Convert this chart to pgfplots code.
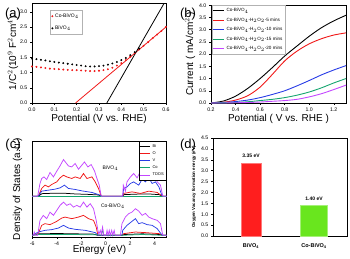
\documentclass[border=0pt]{standalone}
\usepackage{pgfplots}
\pgfplotsset{compat=1.18}
\usepackage{fontspec}
\setmainfont{Liberation Sans}
\definecolor{cred}{RGB}{240,25,25}
\definecolor{cblue}{RGB}{40,60,230}
\definecolor{cgreen}{RGB}{20,165,110}
\definecolor{cpurple}{RGB}{195,70,255}
\definecolor{bred}{RGB}{255,30,30}
\definecolor{bgreen}{RGB}{105,230,30}
\pgfplotsset{
  myax/.style={
    scale only axis,
    axis line style={line width=0.5pt},
    tick style={line width=0.4pt,black},
    tick align=outside,
    major tick length=1.6pt,
    xtick pos=bottom, ytick pos=left,
    tick label style={font=\fontsize{5.2}{6}\selectfont},
    label style={font=\fontsize{5.8}{6.5}\selectfont},
    /pgf/number format/assume math mode=true,
    xticklabel style={yshift=0.5pt},
    yticklabel style={xshift=0.5pt},
  },
}
\begin{document}
\begin{tikzpicture}
%% (a)
\begin{axis}[myax, at={(32pt,155pt)}, anchor=south west, width=134pt, height=99.5pt,
  xmin=0, xmax=0.6, ymin=0, ymax=3.27,
  xtick={0,0.1,0.2,0.3,0.4,0.5,0.6}, ytick={0,0.5,1,1.5,2,2.5,3},
  xticklabel style={/pgf/number format/.cd,fixed,fixed zerofill,precision=1},
  yticklabel style={/pgf/number format/.cd,fixed,fixed zerofill,precision=1},
  xlabel={Potential (V vs. RHE)},
  ylabel={1/C$^{2}$(10$^{9}$ F$^{2}$cm$^{4}$)},
  every axis x label/.style={at={(axis description cs:0.5,-0.16)}, anchor=center},
  every axis y label/.style={at={(axis description cs:-0.142,0.5)}, rotate=90, anchor=center},
  legend style={at={(0.134,0.935)}, anchor=north west, font=\fontsize{5}{5.5}\selectfont, draw=gray!60, inner sep=1.5pt, row sep=3pt},
  legend cell align=left,
  legend image code/.code={\draw[#1] plot coordinates {(6pt,0pt)};},
]
\addplot[only marks, mark=*, mark size=0.75pt, cred] coordinates {
(0,1.20)(0.02,1.19)(0.04,1.17)(0.06,1.15)(0.08,1.13)(0.10,1.12)(0.12,1.11)(0.14,1.10)
(0.16,1.09)(0.18,1.08)(0.20,1.08)(0.22,1.07)(0.24,1.06)(0.26,1.05)(0.28,1.05)(0.30,1.06)
(0.32,1.08)(0.34,1.11)(0.36,1.16)(0.38,1.23)(0.40,1.31)(0.42,1.41)(0.44,1.52)(0.46,1.64)
(0.48,1.76)(0.50,1.88)(0.52,2.00)(0.54,2.13)(0.56,2.25)(0.58,2.37)(0.60,2.50)};
\addlegendentry{Co-BiVO$_4$}
\addplot[only marks, mark=*, mark size=0.75pt, black] coordinates {
(0,1.46)(0.02,1.44)(0.04,1.42)(0.06,1.40)(0.08,1.37)(0.10,1.35)(0.12,1.33)(0.14,1.31)
(0.16,1.29)(0.18,1.27)(0.20,1.25)(0.22,1.23)(0.24,1.21)(0.26,1.20)(0.28,1.20)(0.30,1.21)
(0.32,1.23)(0.34,1.26)(0.36,1.30)(0.38,1.35)(0.40,1.41)(0.42,1.48)(0.44,1.57)(0.46,1.67)(0.48,1.79)};
\addlegendentry{BiVO$_4$}
\addplot[cred, line width=0.8pt, forget plot] coordinates {(0.195,0)(0.6,2.5)};
\addplot[black, line width=0.8pt, forget plot] coordinates {(0.335,0)(0.591,3.27)};
\end{axis}
%% (b)
\begin{axis}[myax, at={(211pt,155pt)}, anchor=south west, width=135pt, height=98pt,
  xmin=0.2, xmax=1.3, ymin=0, ymax=4.01,
  xtick={0.2,0.4,0.6,0.8,1.0,1.2}, ytick={0,0.5,1,1.5,2,2.5,3,3.5,4},
  xticklabel style={/pgf/number format/.cd,fixed,fixed zerofill,precision=1},
  yticklabel style={/pgf/number format/.cd,fixed,fixed zerofill,precision=1},
  xlabel={Potential ( V vs. RHE )},
  ylabel={Current ( mA/cm$^{2}$ )},
  every axis x label/.style={at={(axis description cs:0.5,-0.163)}, anchor=center},
  every axis y label/.style={at={(axis description cs:-0.155,0.5)}, rotate=90, anchor=center},
  legend style={at={(0.005,0.995)}, anchor=north west, font=\fontsize{4.6}{5}\selectfont, draw=gray!60, inner sep=0.8pt, row sep=0.6pt},
  legend cell align=left,
  legend image code/.code={\draw[#1] (0pt,0pt) -- (11pt,0pt);},
]
\addplot[black, line width=0.9pt, smooth] coordinates {
(0.2,0)(0.3,0.08)(0.4,0.28)(0.5,0.6)(0.6,1.0)(0.7,1.45)(0.8,1.92)(0.9,2.33)(1.0,2.73)(1.1,3.08)(1.2,3.36)(1.3,3.59)};
\addlegendentry{Co-BiVO$_4$}
\addplot[cred, line width=0.9pt, smooth] coordinates {
(0.2,0)(0.3,0.03)(0.4,0.12)(0.5,0.3)(0.6,0.65)(0.7,1.17)(0.8,1.72)(0.9,2.12)(1.0,2.42)(1.1,2.63)(1.2,2.78)(1.3,2.87)};
\addlegendentry{Co-BiVO$_4$-H$_2$O$_2$-5 mins}
\addplot[cblue, line width=0.9pt, smooth] coordinates {
(0.2,0)(0.3,0.02)(0.4,0.06)(0.5,0.12)(0.6,0.22)(0.7,0.35)(0.8,0.5)(0.9,0.7)(1.0,0.92)(1.1,1.15)(1.2,1.35)(1.3,1.53)};
\addlegendentry{Co-BiVO$_4$-H$_2$O$_2$-10 mins}
\addplot[cgreen, line width=0.9pt, smooth] coordinates {
(0.2,0)(0.3,0.005)(0.4,0.02)(0.5,0.05)(0.6,0.1)(0.7,0.15)(0.8,0.22)(0.9,0.32)(1.0,0.45)(1.1,0.62)(1.2,0.82)(1.3,1.0)};
\addlegendentry{Co-BiVO$_4$-H$_2$O$_2$-15 mins}
\addplot[cpurple, line width=0.9pt, smooth] coordinates {
(0.2,0)(0.3,0)(0.4,0.01)(0.5,0.02)(0.6,0.04)(0.7,0.07)(0.8,0.1)(0.9,0.15)(1.0,0.25)(1.1,0.38)(1.2,0.55)(1.3,0.73)};
\addlegendentry{Co-BiVO$_4$-H$_2$O$_2$-20 mins}
\end{axis}
%% (c)
\begin{axis}[myax, at={(32.3pt,21pt)}, anchor=south west, width=134.4pt, height=95.7pt,
  xmin=-6, xmax=5, ymin=0, ymax=96,
  xtick={-6,-4,-2,0,2,4}, ytick=\empty,
  xlabel={Energy (eV)},
  ylabel={Density of States (a.u.)},
  every axis x label/.style={at={(axis description cs:0.5,-0.14)}, anchor=center},
  every axis y label/.style={at={(axis description cs:-0.11,0.5)}, rotate=90, anchor=center},
  legend style={at={(1,1)}, anchor=north east, font=\fontsize{4}{4.5}\selectfont, draw=black, inner sep=0.8pt, row sep=-1.2pt},
  legend cell align=left,
  legend image code/.code={\draw[#1] (0pt,0pt) -- (10pt,0pt);},
  every axis plot/.append style={line width=0.75pt},
]
% upper BiVO4 (baseline 41)
\addplot[black] table[row sep=\\, x=E, y expr=\thisrow{h}+41] {E h\\
-6 0\\ -5.51 0\\ -5.2 2.5\\ -4.5 2.8\\ -3.5 3.0\\ -2.5 2.2\\ -1.5 1.8\\ -0.6 1.2\\ -0.36 0\\ 1.4 0\\ 1.5 1.5\\ 2.5 2.0\\ 3.5 2.2\\ 4.4 1.5\\ 4.63 0\\ 5 0\\};
\addlegendentry{Bi}
\addplot[cred] table[row sep=\\, x=E, y expr=\thisrow{h}+41] {E h\\
-6 0\\ -5.51 0\\ -5.23 7.7\\ -4.96 11\\ -4.68 9.3\\ -4.41 11.7\\ -4.0 14.3\\ -3.73 18.3\\ -3.45 21\\ -3.18 19.3\\ -2.77 17.7\\ -2.49 19.3\\ -2.08 17.7\\ -1.81 22.7\\ -1.53 17.7\\ -1.12 19.3\\ -0.85 14.3\\ -0.58 7.7\\ -0.36 0\\ 1.40 0\\ 1.48 2.7\\ 2.16 4.3\\ 2.85 2.7\\ 3.53 5\\ 4.22 3.7\\ 4.63 0\\ 5 0\\};
\addlegendentry{O}
\addplot[cblue] table[row sep=\\, x=E, y expr=\thisrow{h}+41] {E h\\
-6 0\\ -5.51 0\\ -5.23 5\\ -4.68 6\\ -4.14 7\\ -3.73 8.3\\ -3.37 11\\ -3.04 7.7\\ -2.49 6.7\\ -1.95 5.3\\ -1.12 3.7\\ -0.44 1\\ -0.36 0\\ 1.40 0\\ 1.48 7.7\\ 1.75 9.3\\ 2.03 12.7\\ 2.30 14.3\\ 2.71 11\\ 2.99 17\\ 3.26 14.3\\ 3.53 18.3\\ 3.81 12.7\\ 4.08 14.3\\ 4.36 9.3\\ 4.63 0\\ 5 0\\};
\addlegendentry{V}
\addplot[cgreen] coordinates {(-6,41)(5,41)};
\addlegendentry{Co}
\addplot[cpurple] table[row sep=\\, x=E, y expr=\thisrow{h}+41] {E h\\
-6 0\\ -5.56 0\\ -5.37 12.7\\ -5.23 17.7\\ -5.04 19.3\\ -4.82 16.7\\ -4.55 23.7\\ -4.27 19.3\\ -4.0 25\\ -3.73 30.3\\ -3.45 36.7\\ -3.26 33.7\\ -3.04 30.3\\ -2.77 29.3\\ -2.49 32.7\\ -2.22 27\\ -1.95 31\\ -1.73 34.3\\ -1.45 29.3\\ -1.18 31.7\\ -0.90 25\\ -0.71 17.7\\ -0.52 11\\ -0.36 0\\ 1.40 0\\ 1.45 11\\ 1.62 5\\ 1.75 14.3\\ 2.03 19.3\\ 2.30 22.7\\ 2.58 18.3\\ 2.85 25\\ 3.12 22.7\\ 3.40 26\\ 3.67 19.3\\ 3.95 22.7\\ 4.22 14.3\\ 4.49 11\\ 4.68 0\\ 5 0\\};
\addlegendentry{TDOS}
% lower Co-BiVO4 (baseline 1.7)
\addplot[black, forget plot] table[row sep=\\, x=E, y expr=\thisrow{h}+1.7] {E h\\
-6 0\\ -5.5 1.5\\ -4 1.8\\ -2.5 1.5\\ -1 1.2\\ -0.63 0\\ 1.34 0\\ 1.5 0.8\\ 3 1.5\\ 4.5 0.8\\ 4.68 0\\ 5 0\\};
\addplot[cred, forget plot] table[row sep=\\, x=E, y expr=\thisrow{h}+1.7] {E h\\
-6 0\\ -5.51 1.7\\ -5.23 10\\ -4.96 11.7\\ -4.55 10.7\\ -4.0 14\\ -3.59 17.3\\ -3.32 18.3\\ -2.77 16.7\\ -2.22 18.3\\ -1.81 20\\ -1.40 16.7\\ -0.99 15\\ -0.77 8.3\\ -0.63 0\\ 1.34 0\\ 1.5 1.7\\ 2.44 3.3\\ 3.26 2.7\\ 4.36 1.7\\ 4.68 0\\ 5 0\\};
\addplot[cblue, forget plot] table[row sep=\\, x=E, y expr=\thisrow{h}+1.7] {E h\\
-6 0\\ -5.51 3.3\\ -4.96 5\\ -4.41 5.7\\ -3.86 7.3\\ -3.45 10\\ -3.04 7.3\\ -2.49 6\\ -1.67 5\\ -0.85 2.7\\ -0.63 0\\ 1.34 0\\ 1.40 5\\ 1.75 10\\ 2.16 14\\ 2.44 16.7\\ 2.71 11.7\\ 2.99 12.7\\ 3.40 10.7\\ 3.81 10\\ 4.22 6.7\\ 4.63 0\\ 5 0\\};
\addplot[cgreen, forget plot] table[row sep=\\, x=E, y expr=\thisrow{h}+1.7] {E h\\
-6 0\\ -5.5 0.8\\ -3 0.8\\ -0.63 0.5\\ -0.35 0\\ -0.25 6\\ -0.15 0\\ 1.34 0\\ 3 0.8\\ 4.68 0\\ 5 0\\};
\addplot[cpurple, forget plot] table[row sep=\\, x=E, y expr=\thisrow{h}+1.7] {E h\\
-6 0\\ -5.9 0\\ -5.84 3.3\\ -5.75 0\\ -5.56 0\\ -5.37 15\\ -5.10 20\\ -4.82 16.7\\ -4.55 23.3\\ -4.27 20\\ -4.0 25\\ -3.73 30\\ -3.45 33.3\\ -3.18 30\\ -2.90 31.7\\ -2.63 28.3\\ -2.36 30\\ -2.08 28.3\\ -1.81 33.3\\ -1.53 28.3\\ -1.26 31.7\\ -0.99 26.7\\ -0.77 15\\ -0.63 5\\ -0.55 1\\ -0.44 5\\ -0.35 1\\ -0.25 8.3\\ -0.15 0\\ 0.05 0\\ 0.12 5\\ 0.2 0\\ 0.3 5\\ 0.38 0\\ 0.5 5\\ 0.58 0\\ 0.7 5\\ 0.78 0\\ 1.21 0\\ 1.34 11.7\\ 1.62 18.3\\ 1.89 21.7\\ 2.16 23.3\\ 2.44 26.7\\ 2.71 24.3\\ 2.99 20\\ 3.26 22\\ 3.53 18.3\\ 3.81 16.7\\ 4.22 15\\ 4.49 11.7\\ 4.68 0\\ 5 0\\};
\node[font=\fontsize{5}{5}\selectfont] at (axis cs:0.4,69) {BiVO$_4$};
\node[font=\fontsize{5}{5}\selectfont] at (axis cs:0.6,31) {Co-BiVO$_4$};
\end{axis}
%% (d)
\begin{axis}[myax, at={(213pt,22pt)}, anchor=south west, width=134pt, height=98pt,
  xmin=213, xmax=347, ymin=0, ymax=4.5,
  xtick={251,314}, xticklabels={\textbf{BiVO$_\mathbf{4}$},\textbf{Co-BiVO$_\mathbf{4}$}},
  xticklabel style={font=\fontsize{5.5}{6}\selectfont, yshift=-3pt},
  major x tick style={draw=none},
  ytick={0,0.5,1,1.5,2,2.5,3,3.5,4,4.5},
  yticklabel style={/pgf/number format/.cd,fixed,fixed zerofill,precision=1},
  ylabel={\textbf{Oxygen Vacancy formation energy (eV)}},
  every axis y label/.style={at={(axis description cs:-0.142,0.5)}, rotate=90, anchor=center, font=\fontsize{4.4}{5}\selectfont},
]
\addplot[ybar, bar width=20pt, fill=bred, draw=bred!60] coordinates {(251,3.35)};
\addplot[ybar, bar width=27pt, fill=bgreen, draw=bgreen!60] coordinates {(314,1.40)};
\node[font=\bfseries\fontsize{5}{5}\selectfont] at (axis cs:251,3.67) {3.35 eV};
\node[font=\bfseries\fontsize{5}{5}\selectfont] at (axis cs:314,1.72) {1.40 eV};
\end{axis}
\node[font=\fontsize{13}{13}\selectfont] at (13pt,244pt) {(a)};
\node[font=\fontsize{13}{13}\selectfont] at (188pt,244pt) {(b)};
\node[font=\fontsize{13}{13}\selectfont] at (13pt,113pt) {(c)};
\node[font=\fontsize{13}{13}\selectfont] at (188pt,113pt) {(d)};
\pgfresetboundingbox
\path[use as bounding box] (0,0) rectangle (350pt,258pt);
\end{tikzpicture}
\end{document}
